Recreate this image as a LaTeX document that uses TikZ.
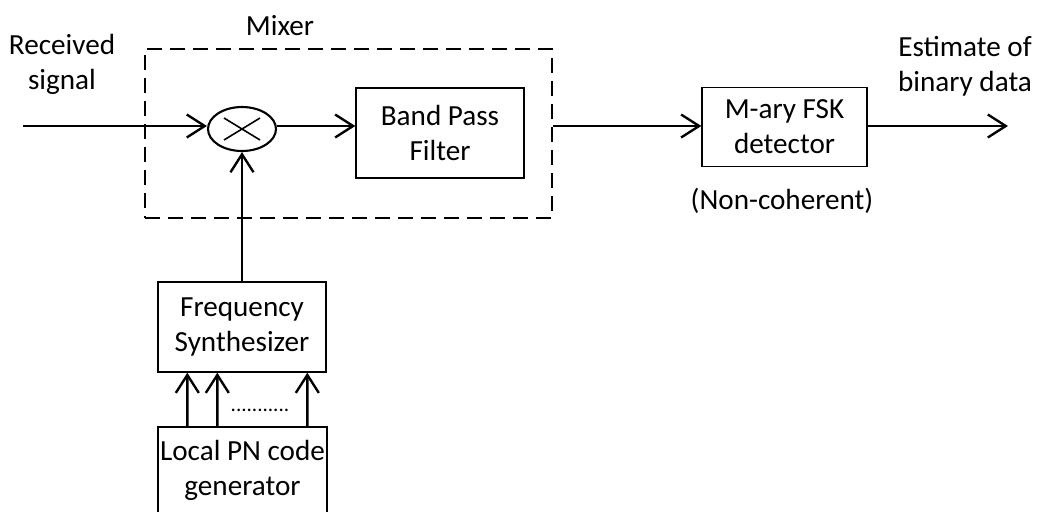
\documentclass[tikz,border=0pt]{standalone}
\usepackage{fontspec}
\setmainfont{Carlito}
\usetikzlibrary{arrows.meta,shapes.geometric,calc}
\tikzset{
  blk/.style={draw, line width=0.8pt, align=center, inner sep=0pt},
  sig/.style={line width=1.35pt, -{Straight Barb[length=3.6mm,width=4.6mm,line width=1.35pt]}},
  lbl/.style={align=center, inner sep=0pt},
}
\begin{document}
\begin{tikzpicture}[x=0.02cm,y=-0.02cm,font=\fontsize{16.6}{20}\selectfont]
  \useasboundingbox (0,0) rectangle (1040,511);
  \node[draw, line width=1.3pt, dash pattern=on 0.3cm off 0.16cm,
        minimum width=8.14cm, minimum height=3.38cm] (mixer) at (348.5,133.5) {};
  \node[lbl] (mixlbl) at (280,26) {Mixer};
  \node[draw, ellipse, line width=1.2pt, minimum width=1.36cm, minimum height=0.88cm] (mix) at (242,129) {};
  \draw[line width=0.9pt] ($(mix)+(-18,-11)$) -- ($(mix)+(18,11)$);
  \draw[line width=0.9pt] ($(mix)+(-18,11)$) -- ($(mix)+(18,-11)$);
  \node[blk, minimum width=3.36cm, minimum height=1.8cm] (bpf) at (440,133) {Band Pass\\Filter};
  \node[blk, minimum width=3.3cm, minimum height=1.58cm] (mdet) at (784.5,127) {M-ary FSK\\detector};
  \node[lbl] (nonc) at (782,201) {(Non-coherent)};
  \node[lbl] (recv) at (62,64) {Received\\signal};
  \node[lbl] (est) at (965,66) {Estimate of\\binary data};
  \node[blk, minimum width=3.36cm, minimum height=1.8cm] (fsyn) at (242,327) {Frequency\\Synthesizer};
  \node[blk, minimum width=3.38cm, minimum height=1.72cm] (pngen) at (242.5,470) {Local PN code\\generator};
  \node[lbl, font=\fontsize{12}{14}\selectfont] (dots) at (260,410) {...........};
  \coordinate (in) at (23,126);
  \coordinate (out) at (1008,126);
  \draw[sig] (in) -- (in -| mix.west);
  \draw[sig] (mix.east |- in) -- (in -| bpf.west);
  \draw[sig] (mixer.east |- in) -- (in -| mdet.west);
  \draw[sig] (mdet.east |- out) -- (out);
  \draw[sig] (fsyn.north) -- (mix.south);
  \foreach \d in {30,60,150}
    \draw[sig] ($(pngen.north west)+(\d,0)$) -- ($(fsyn.south west)+(\d,0)$);
\end{tikzpicture}
\end{document}
